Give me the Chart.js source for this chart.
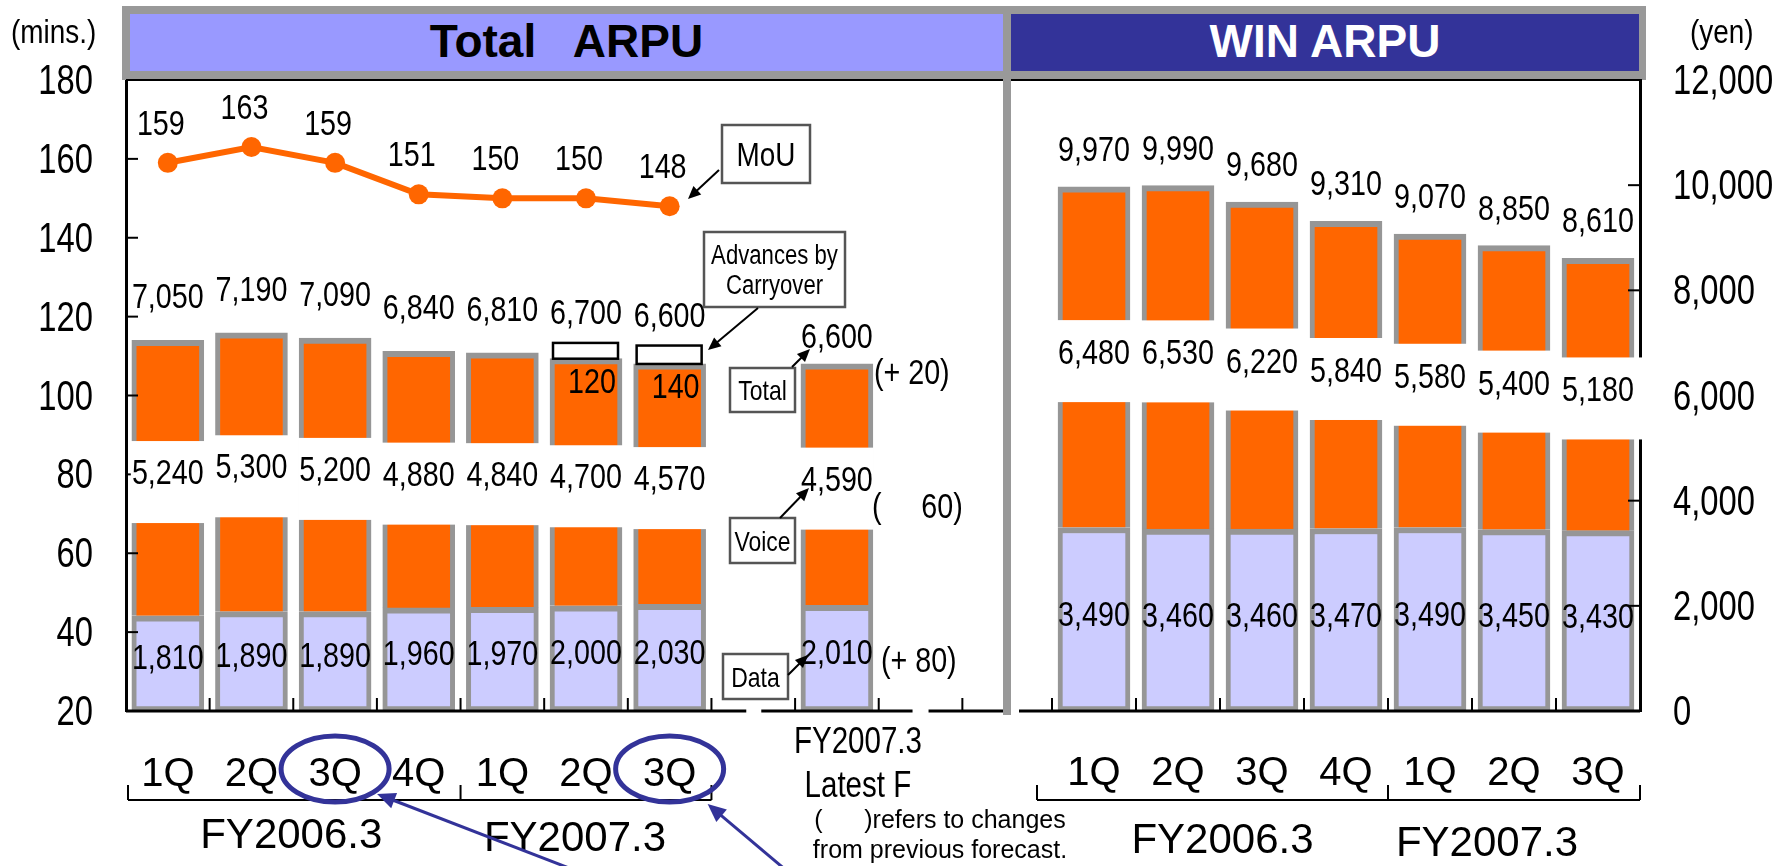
<!DOCTYPE html>
<html>
<head>
<meta charset="utf-8">
<title>Total ARPU / WIN ARPU</title>
<script src="https://cdn.jsdelivr.net/npm/chart.js@4.4.1/dist/chart.umd.min.js"></script>
<style>
  body { margin: 0; background: #fff; }
  #page { position: relative; width: 1776px; height: 866px; overflow: hidden; background: #fff; }
  .clip { position: absolute; top: 0; height: 866px; overflow: hidden; }
  .clip canvas { position: absolute; top: 0; }
  .block { position: absolute; }
  .title { position: absolute; top: 14px; height: 57px; line-height: 60px; text-align: center;
           font: bold 46px "Liberation Sans", Arial, sans-serif; white-space: pre; }
  #note { position: absolute; left: 790px; top: 804px; width: 300px; text-align: center;
          font: 25px "Liberation Sans", Arial, sans-serif; line-height: 30px; white-space: pre; }
</style>
</head>
<body>
<div id="page">
  <div class="clip" style="left:0;width:1003px"><canvas id="totalChart" width="1056" height="866" style="left:0"></canvas></div>
  <div class="clip" style="left:1019px;width:757px"><canvas id="winChart" width="816" height="866" style="left:-59px"></canvas></div>
  <div class="block" style="left:122px;top:6px;width:1524px;height:74px;background:#999"></div>
  <div class="block" style="left:126px;top:79px;width:1516px;height:2px;background:#000"></div>
  <div class="block" style="left:1003px;top:6px;width:8px;height:709px;background:#999"></div>
  <div class="title" style="left:130px;width:873px;background:#9999ff;color:#000">Total   ARPU</div>
  <div class="title" style="left:1011px;width:628px;background:#333399;color:#fff">WIN ARPU</div>
  <div id="note">(      )refers to changes
from previous forecast.</div>
</div>
<script>
// ---- data ----
var quarters = ['1Q', '2Q', '3Q', '4Q', '1Q', '2Q', '3Q'];
var fiscalYears = ['FY2006.3', 'FY2007.3'];
var forecastTitle = ['FY2007.3', 'Latest F'];

// Total ARPU (yen): data + voice, advances by carryover, MoU (mins.)
var totalData = [1810, 1890, 1890, 1960, 1970, 2000, 2030];
var totalVoice = [5240, 5300, 5200, 4880, 4840, 4700, 4570];
var carryover = [0, 0, 0, 0, 0, 120, 140];
var mou = [159, 163, 159, 151, 150, 150, 148];

// FY2007.3 latest forecast and change from previous forecast (total, voice, data)
var forecastData = 2010;
var forecastVoice = 4590;
var forecastChange = ['(+ 20)', '(     60)', '(+ 80)'];

// WIN ARPU (yen)
var winData = [3490, 3460, 3460, 3470, 3490, 3450, 3430];
var winVoice = [6480, 6530, 6220, 5840, 5580, 5400, 5180];

var minsAxis = [20, 180, 20];    // min, max, step
var yenAxis = [0, 12000, 2000];

// ---- styling ----
// no narrow face is installed, so the slide's narrow type is Liberation Sans squeezed
var REGULAR = '"Liberation Sans", Arial, sans-serif';
var SQUEEZE = 0.82;
var VAL = 35;
var CAT_FONT = '40px ' + REGULAR;
var FY_FONT = '42px ' + REGULAR;
var ORANGE = '#ff6600', LILAC = '#ccccff', GREY = '#969696', NAVY = '#333399';
var RIGHT_OFF = 960; // page x of the WIN canvas

function fmt(v) { return Number(v).toLocaleString('en-US'); }

function text(ctx, s, x, y, font, align, sx) {
  ctx.save();
  ctx.font = font;
  ctx.fillStyle = '#000';
  ctx.textAlign = align || 'center';
  ctx.textBaseline = 'alphabetic';
  ctx.translate(x, y);
  ctx.scale(sx || 1, 1);
  ctx.fillText(s, 0, 0);
  ctx.restore();
}
function ntext(ctx, s, x, y, size, align, sx) {
  text(ctx, s, x, y, size + 'px ' + REGULAR, align, sx || SQUEEZE);
}

function arrow(ctx, x1, y1, x2, y2, color, width, head) {
  var a = Math.atan2(y2 - y1, x2 - x1);
  ctx.save();
  ctx.strokeStyle = color; ctx.fillStyle = color; ctx.lineWidth = width;
  ctx.beginPath();
  ctx.moveTo(x1, y1);
  ctx.lineTo(x2 - Math.cos(a) * head * 0.8, y2 - Math.sin(a) * head * 0.8);
  ctx.stroke();
  ctx.beginPath();
  ctx.moveTo(x2, y2);
  ctx.lineTo(x2 - head * Math.cos(a - 0.42), y2 - head * Math.sin(a - 0.42));
  ctx.lineTo(x2 - head * Math.cos(a + 0.42), y2 - head * Math.sin(a + 0.42));
  ctx.closePath();
  ctx.fill();
  ctx.restore();
}

function line(ctx, x1, y1, x2, y2, w, color) {
  ctx.save();
  ctx.strokeStyle = color || '#000'; ctx.lineWidth = w;
  ctx.beginPath(); ctx.moveTo(x1, y1); ctx.lineTo(x2, y2); ctx.stroke();
  ctx.restore();
}

// white band through the middle of the voice bar (broken bar look)
function cutVoice(ctx, el, padR) {
  var mid = (el.y + el.base) / 2 + 4;
  ctx.fillStyle = '#fff';
  ctx.fillRect(el.x - el.width / 2 - 1, mid - 41, el.width + 2 + padR, 82);
  return mid;
}

function boundary(xs, k) {
  var half = (xs.getPixelForValue(1) - xs.getPixelForValue(0)) / 2;
  return xs.getPixelForValue(k) - half;
}

function bracket(ctx, xa, xb, xc) {
  line(ctx, xa, 800, xc, 800, 2);
  [xa, xb, xc].forEach(function (x) { line(ctx, x, 785, x, 800, 2); });
}

// axis numbers from the scale's own ticks
function tickLabels(ctx, scale, x, align) {
  scale.ticks.forEach(function (t) {
    ntext(ctx, fmt(t.value), x, scale.getPixelForValue(t.value) + 14, 42, align, 0.78);
  });
}

function barSets(dataVals, voiceVals, axis) {
  return [
    { label: 'Data', data: dataVals, yAxisID: axis, stack: 'arpu', order: 1,
      backgroundColor: LILAC, borderColor: GREY, borderSkipped: false,
      borderWidth: { top: 6, left: 5, right: 5, bottom: 5 }, barThickness: 72 },
    { label: 'Voice', data: voiceVals, yAxisID: axis, stack: 'arpu', order: 1,
      backgroundColor: ORANGE, borderColor: GREY, borderSkipped: false,
      borderWidth: { top: 6, left: 5, right: 5, bottom: 0 }, barThickness: 72 }
  ];
}

// ---- left chart: Total ARPU ----
var FC = quarters.length + 1;
var leftLabels = quarters.concat(['', forecastTitle.join(' '), '', '']);
var leftData = totalData.concat([null, forecastData, null, null]);
var leftVoice = totalVoice.concat([null, forecastVoice, null, null]);
var leftCarry = carryover.concat([0, 0, 0, 0]);
var leftMou = mou.concat([null, null, null, null]);

var annotations = [
  { lines: ['MoU'], box: [722, 125, 88, 58], size: 34, from: [719, 170], to: [688, 199] },
  { lines: ['Advances by', 'Carryover'], box: [704, 232, 141, 75], size: 27, from: [758, 308], to: [708, 350] },
  { lines: ['Total'], box: [730, 368, 65, 44], size: 28, from: [792, 367], to: [810, 349] },
  { lines: ['Voice'], box: [730, 518, 65, 45], size: 28, from: [780, 518], to: [809, 488] },
  { lines: ['Data'], box: [723, 654, 65, 45], size: 28, from: [788, 675], to: [808, 655] }
];

var totalDecor = {
  id: 'totalDecor',
  afterDatasetsDraw: function (chart) {
    var ctx = chart.ctx, a = chart.chartArea;
    var xs = chart.scales.x, ys = chart.scales.y, yen = chart.scales.yen;
    var dMeta = chart.getDatasetMeta(0), vMeta = chart.getDatasetMeta(1), mMeta = chart.getDatasetMeta(2);
    var perYen = yen.getPixelForValue(0) - yen.getPixelForValue(1);

    // inner ticks on the mins axis
    for (var t = minsAxis[0] + minsAxis[2]; t <= minsAxis[1]; t += minsAxis[2]) {
      line(ctx, a.left, ys.getPixelForValue(t), a.left + 12, ys.getPixelForValue(t), 2);
    }

    // bottom axis with two breaks around the forecast bar
    var cuts = [FC - 1, FC + 1].map(function (k) { return xs.getPixelForValue(k); });
    line(ctx, a.left, a.bottom, cuts[0] - 7, a.bottom, 3);
    line(ctx, cuts[0] + 8, a.bottom, cuts[1] - 8, a.bottom, 3);
    line(ctx, cuts[1] + 8, a.bottom, a.right, a.bottom, 3);
    for (var k = 1; k < leftLabels.length; k++) {
      var bx = boundary(xs, k);
      line(ctx, bx, a.bottom, bx, a.bottom - 13, 2);
    }

    for (var i = 0; i < leftData.length; i++) {
      if (leftData[i] == null) continue;
      var d = dMeta.data[i], v = vMeta.data[i];
      var mid = cutVoice(ctx, v, 0);
      var top = v.y;
      var totalY = top - 32;
      if (leftCarry[i]) {
        var h = leftCarry[i] * perYen * 2.5;
        ctx.save();
        ctx.fillStyle = '#fff'; ctx.strokeStyle = '#000'; ctx.lineWidth = 2.5;
        ctx.fillRect(v.x - v.width / 2 + 3, top - h, v.width - 7, h);
        ctx.strokeRect(v.x - v.width / 2 + 3, top - h, v.width - 7, h);
        ctx.restore();
        ntext(ctx, String(leftCarry[i]), v.x + 6, top + 34, VAL);
        totalY = top - h - 19;
      }
      if (i === FC) totalY = top - 16;
      ntext(ctx, fmt(leftData[i] + leftVoice[i]), v.x, totalY, VAL);
      ntext(ctx, fmt(leftVoice[i]), v.x, mid + 2, VAL);
      var dataY = (d.y + d.base) / 2 + 6;
      ntext(ctx, fmt(leftData[i]), d.x, dataY, VAL);
      if (i === FC) {
        ntext(ctx, forecastChange[0], v.x + v.width / 2 + 1, top + 20, VAL, 'left');
        ntext(ctx, forecastChange[1], v.x + 35, mid + 29, VAL, 'left');
        ntext(ctx, forecastChange[2], v.x + 44, dataY + 8, VAL, 'left');
      }
    }

    // MoU value labels
    for (var j = 0; j < leftMou.length; j++) {
      if (leftMou[j] == null) continue;
      var p = mMeta.data[j];
      ntext(ctx, String(leftMou[j]), p.x - 7, p.y - 28, VAL);
    }
  },
  afterDraw: function (chart) {
    var ctx = chart.ctx, a = chart.chartArea, xs = chart.scales.x;
    ntext(ctx, '(mins.)', 11, 43, 34, 'left');
    tickLabels(ctx, chart.scales.y, a.left - 33, 'right');

    // category labels, brackets and fiscal years
    for (var i = 0; i < quarters.length; i++) {
      text(ctx, quarters[i], xs.getPixelForValue(i), 786, CAT_FONT);
    }
    var b0 = a.left + 2, b4 = boundary(xs, 4), b7 = boundary(xs, 7);
    bracket(ctx, b0, b4, b7);
    text(ctx, fiscalYears[0], (b0 + b4) / 2 - 3, 848, FY_FONT);
    text(ctx, fiscalYears[1], (b4 + b7) / 2 - 11, 851, FY_FONT);
    var fx = xs.getPixelForValue(FC) + 21;
    ntext(ctx, forecastTitle[0], fx, 753, 36);
    ntext(ctx, forecastTitle[1], fx, 797, 36);

    // callout boxes
    annotations.forEach(function (n) {
      var b = n.box;
      ctx.save();
      ctx.fillStyle = '#fff'; ctx.strokeStyle = '#555'; ctx.lineWidth = 2.5;
      ctx.fillRect(b[0], b[1], b[2], b[3]);
      ctx.strokeRect(b[0], b[1], b[2], b[3]);
      ctx.restore();
      var gap = n.size * 1.12;
      var cy = b[1] + b[3] / 2 - (n.lines.length - 1) * gap / 2;
      n.lines.forEach(function (s, li) {
        ntext(ctx, s, b[0] + b[2] / 2, cy + li * gap + n.size * 0.36, n.size);
      });
      arrow(ctx, n.from[0], n.from[1], n.to[0], n.to[1], '#000', 2, 14);
    });

    // blue highlight rings around the two 3Q labels
    [2, 6].forEach(function (k, idx) {
      var cx = xs.getPixelForValue(k);
      ctx.save();
      ctx.strokeStyle = NAVY; ctx.lineWidth = 5;
      ctx.beginPath();
      ctx.ellipse(cx, 769, 54, 33, 0, 0, Math.PI * 2);
      ctx.stroke();
      ctx.restore();
      if (idx === 0) arrow(ctx, cx + 265, 880, cx + 42, 794, NAVY, 3, 20);
      else arrow(ctx, cx + 128, 880, cx + 38, 804, NAVY, 3, 20);
    });
  }
};

new Chart(document.getElementById('totalChart'), {
  type: 'bar',
  data: {
    labels: leftLabels,
    datasets: barSets(leftData, leftVoice, 'yen').concat([{
      type: 'line', label: 'MoU', data: leftMou, yAxisID: 'y', order: 0,
      borderColor: ORANGE, borderWidth: 6, pointRadius: 10,
      pointBackgroundColor: ORANGE, pointBorderWidth: 0, spanGaps: false
    }])
  },
  options: {
    responsive: false, animation: false, events: [],
    layout: { padding: { left: 0, top: 80, right: 3, bottom: 155 } },
    plugins: { legend: { display: false }, tooltip: { enabled: false } },
    scales: {
      x: { display: false, stacked: true },
      y: {
        position: 'left', min: minsAxis[0], max: minsAxis[1],
        grid: { display: false, drawTicks: false },
        border: { display: true, color: '#000', width: 3 },
        ticks: { stepSize: minsAxis[2], display: false },
        afterFit: function (s) { s.width = 126; }
      },
      yen: { display: false, stacked: true, min: yenAxis[0], max: yenAxis[1] }
    }
  },
  plugins: [totalDecor]
});

// ---- right chart: WIN ARPU ----
var rightLabels = [''].concat(quarters);
var rightData = [null].concat(winData);
var rightVoice = [null].concat(winVoice);

var winDecor = {
  id: 'winDecor',
  afterDatasetsDraw: function (chart) {
    var ctx = chart.ctx, a = chart.chartArea, xs = chart.scales.x, ys = chart.scales.y;
    var dMeta = chart.getDatasetMeta(0), vMeta = chart.getDatasetMeta(1);

    for (var t = yenAxis[0] + yenAxis[2]; t <= yenAxis[1]; t += yenAxis[2]) {
      line(ctx, a.right - 12, ys.getPixelForValue(t), a.right, ys.getPixelForValue(t), 2);
    }
    line(ctx, a.left, a.bottom, a.right, a.bottom, 3);
    for (var k = 1; k < rightLabels.length; k++) {
      var bx = boundary(xs, k);
      line(ctx, bx, a.bottom, bx, a.bottom - 13, 2);
    }

    for (var i = 0; i < rightData.length; i++) {
      if (rightData[i] == null) continue;
      var d = dMeta.data[i], v = vMeta.data[i];
      var mid = cutVoice(ctx, v, i === rightData.length - 1 ? 9 : 0);
      ntext(ctx, fmt(rightData[i] + rightVoice[i]), v.x, v.y - 26, VAL);
      ntext(ctx, fmt(rightVoice[i]), v.x, mid + 3, VAL);
      ntext(ctx, fmt(rightData[i]), d.x, (d.y + d.base) / 2 + 7, VAL);
    }
  },
  afterDraw: function (chart) {
    var ctx = chart.ctx, a = chart.chartArea, xs = chart.scales.x;
    ntext(ctx, '(yen)', 1690 - RIGHT_OFF, 43, 34, 'left');
    tickLabels(ctx, chart.scales.y, a.right + 33, 'left');
    for (var i = 1; i < rightLabels.length; i++) {
      text(ctx, rightLabels[i], xs.getPixelForValue(i), 785, CAT_FONT);
    }
    var b1 = boundary(xs, 1) - 15, b5 = boundary(xs, 5), b8 = a.right;
    bracket(ctx, b1, b5, b8);
    text(ctx, fiscalYears[0], (b1 + b5) / 2 + 10, 853, FY_FONT);
    text(ctx, fiscalYears[1], (b5 + b8) / 2 - 27, 856, FY_FONT);
  }
};

new Chart(document.getElementById('winChart'), {
  type: 'bar',
  data: { labels: rightLabels, datasets: barSets(rightData, rightVoice, 'y') },
  options: {
    responsive: false, animation: false, events: [],
    layout: { padding: { left: 8, top: 80, right: 0, bottom: 155 } },
    plugins: { legend: { display: false }, tooltip: { enabled: false } },
    scales: {
      x: { display: false, stacked: true },
      y: {
        position: 'right', stacked: true, min: yenAxis[0], max: yenAxis[1],
        grid: { display: false, drawTicks: false },
        border: { display: true, color: '#000', width: 3 },
        ticks: { stepSize: yenAxis[2], display: false },
        afterFit: function (s) { s.width = 136; }
      }
    }
  },
  plugins: [winDecor]
});
</script>
</body>
</html>
